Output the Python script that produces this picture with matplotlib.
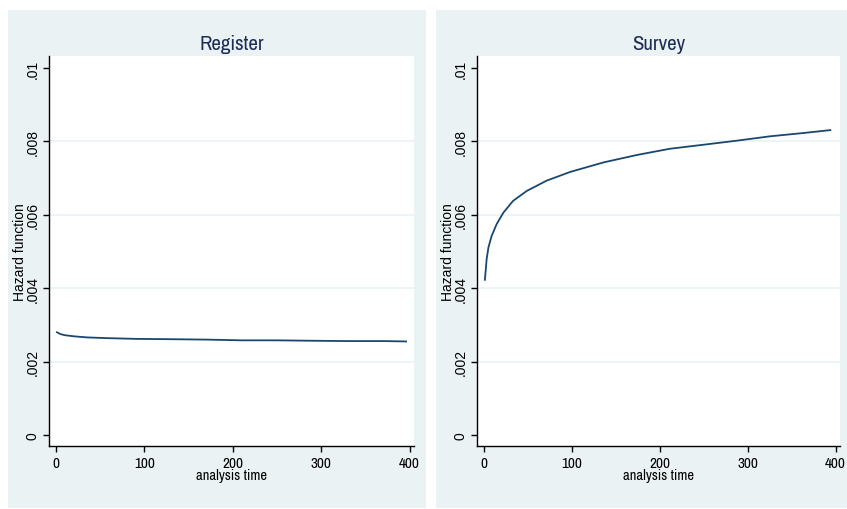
import matplotlib.pyplot as plt
from matplotlib.patches import Rectangle

# hazard values
reg_time = [1, 5, 10, 20, 35, 58, 90, 134, 170, 210, 250, 285, 330, 370, 396]
reg_hazard = [0.00280, 0.00275, 0.00272, 0.00269, 0.00266, 0.00264, 0.00262,
              0.00261, 0.00260, 0.00258, 0.00258, 0.00257, 0.00256, 0.00256, 0.00255]

srv_time = [1, 3, 5, 8.7, 14.4, 22, 33, 48.5, 71, 98, 136, 173.5, 211, 249, 287, 325, 363, 394]
srv_hazard = [0.00423, 0.00480, 0.00511, 0.00543, 0.00575, 0.00606, 0.00638, 0.00665,
              0.00693, 0.00717, 0.00743, 0.00763, 0.00780, 0.00791, 0.00802, 0.00814,
              0.00823, 0.00831]

titles = ["Register", "Survey"]
yticks = [0, 0.002, 0.004, 0.006, 0.008, 0.01]
ytick_labels = ["0", ".002", ".004", ".006", ".008", ".01"]
xticks = [0, 100, 200, 300, 400]

panel_bg = "#EAF2F3"
line_col = "#1A476F"
title_col = "#1E2D53"
narrow = ["Archivo Narrow", "Liberation Sans Narrow", "DejaVu Sans"]
sans = ["Liberation Sans", "Arimo", "DejaVu Sans"]

fig = plt.figure(figsize=(8.47, 5.10), dpi=100)
W, H = 847, 510

# grey panel backgrounds
for x0, x1 in [(8, 426), (436, 847)]:
    fig.patches.append(Rectangle((x0 / W, 1 - 509 / H), (x1 - x0) / W, (509 - 11) / H,
                                 transform=fig.transFigure, facecolor=panel_bg,
                                 edgecolor="none", zorder=-5))

axes_px = [(49, 414), (477, 840)]
data = [(reg_time, reg_hazard), (srv_time, srv_hazard)]

for (x0, x1), (t, h), title in zip(axes_px, data, titles):
    ax = fig.add_axes([x0 / W, 1 - 447 / H, (x1 - x0) / W, (447 - 57) / H])
    ax.set_facecolor("white")
    for yv in yticks[1:-1]:
        ax.axhline(yv, color=panel_bg, lw=1.2, zorder=1)
    ax.plot(t, h, color=line_col, lw=1.3, zorder=3)
    ax.set_xlim(-8, 405)
    ax.set_ylim(-0.0003, 0.01033)
    for s in ["top", "right"]:
        ax.spines[s].set_visible(False)
    for s in ["left", "bottom"]:
        ax.spines[s].set_color("black")
        ax.spines[s].set_linewidth(1.0)
    ax.set_yticks(yticks)
    ax.set_yticklabels(ytick_labels, rotation=90, va="center",
                       family=sans, fontsize=10)
    ax.set_xticks(xticks)
    ax.set_xticklabels([str(v) for v in xticks], family=narrow, fontsize=11)
    ax.tick_params(axis="y", direction="out", length=4, width=1, color="black", pad=3)
    ax.tick_params(axis="x", direction="out", length=4, width=1, color="black", pad=3)
    ax.set_ylabel("Hazard function", family=sans, fontsize=10, labelpad=-1)
    ax.set_xlabel("analysis time", family=narrow, fontsize=10.5, labelpad=-1)
    ax.set_title(title, family=narrow, fontsize=15, color=title_col, pad=5)

fig.savefig("out.png", dpi=100)
